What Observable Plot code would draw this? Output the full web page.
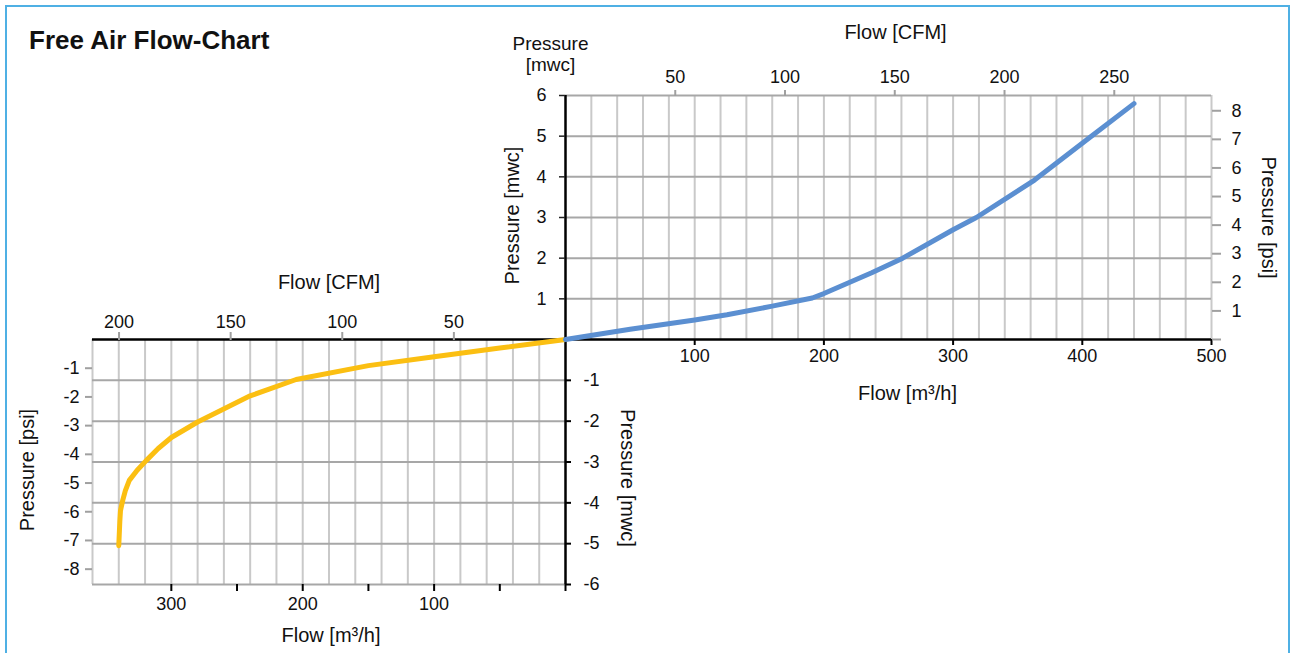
<!DOCTYPE html>
<html><head><meta charset="utf-8">
<script src="https://cdn.jsdelivr.net/npm/d3@7"></script>
<script src="https://cdn.jsdelivr.net/npm/@observablehq/plot@0.6"></script>
<style>
html,body{margin:0;padding:0;background:#fff;overflow:hidden;}
#wrap{position:relative;width:1291px;height:653px;overflow:hidden;font-family:"Liberation Sans",Arial,sans-serif;}
#border{position:absolute;left:5px;top:5px;width:1281px;height:700px;border:2px solid #4fb0e4;}
#title{position:absolute;left:29px;top:25px;font-size:26px;font-weight:bold;color:#111;}
.chart{position:absolute;}
</style></head>
<body>
<div id="wrap">
  <div id="border"></div>
  <div id="title">Free Air Flow-Chart</div>
  <div id="lower" class="chart" style="left:0px;top:260px"></div>
  <div id="upper" class="chart" style="left:470px;top:10px"></div>
</div>
<script>
// ---- data ----
// upper-right curve: flow [m³/h] vs pressure [mwc]
const upperFlow = [0, 50, 100, 125, 160, 191, 200, 237, 261, 300, 318, 363, 407, 440];
const upperPressure = [0, 0.25, 0.48, 0.61, 0.82, 1.02, 1.13, 1.64, 2.0, 2.7, 3.0, 3.92, 5.0, 5.8];
// lower-left curve: flow [m³/h] vs pressure [mwc] (vacuum)
const lowerFlow = [0, 50, 100, 150, 205, 240, 280, 300, 310, 319, 326, 332, 335, 337, 338.7, 339.2, 340];
const lowerPressure = [0, -0.21, -0.42, -0.64, -0.98, -1.38, -2.02, -2.4, -2.67, -2.96, -3.2, -3.45, -3.7, -3.94, -4.19, -4.45, -5.05];

// tick labels
const upperFlowTicks = [100, 200, 300, 400, 500];
const upperMwcTicks = [1, 2, 3, 4, 5, 6];
const upperCfmTicks = [50, 100, 150, 200, 250];
const upperPsiTicks = [0, 1, 2, 3, 4, 5, 6, 7, 8];
const lowerFlowTicks = [0, 50, 100, 150, 200, 250, 300];
const lowerFlowLabels = [100, 200, 300];
const lowerMwcTicks = [-1, -2, -3, -4, -5, -6];
const lowerPsiTicks = [-1, -2, -3, -4, -5, -6, -7, -8];
const lowerCfmTicks = [50, 100, 150, 200];

// unit conversions
const CFM = 1.699;   // m³/h per CFM
const PSI = 1.4223;  // psi per mwc

const upperData = upperFlow.map((f, i) => ({flow: f, p: upperPressure[i]}));
const lowerData = lowerFlow.map((f, i) => ({flow: f, p: lowerPressure[i]}));

const FONT = '"Liberation Sans", Arial, sans-serif';
const style = {fontFamily: FONT, fontSize: "18px", background: "transparent", overflow: "visible", color: "#111"};
const VGRID = "#c9c9c9", HGRID = "#a7a7a7", TICKGRAY = "#a0a0a0";
const TS = 18; // tick label size
const LS = 20; // axis title size

const upper = Plot.plot({
  width: 820, height: 400,
  marginLeft: 95, marginRight: 79, marginTop: 85, marginBottom: 71,
  x: {domain: [0, 500]},
  y: {domain: [0, 6]},
  style,
  marks: [
    Plot.gridX(d3.range(20, 501, 20), {stroke: VGRID, strokeOpacity: 1, strokeWidth: 2}),
    Plot.gridY(d3.range(1, 7), {stroke: HGRID, strokeOpacity: 1, strokeWidth: 2}),
    Plot.ruleY([0], {stroke: "#000", strokeWidth: 2.5}),
    Plot.ruleX([0], {stroke: "#000", strokeWidth: 2.5}),
    Plot.axisY(upperMwcTicks, {anchor: "left", tickSize: 6, tickPadding: 13, stroke: "#222", strokeWidth: 1.5, tickFormat: d => String(d), label: null, fontSize: TS}),
    Plot.axisX(upperFlowTicks, {anchor: "bottom", tickSize: 6, tickPadding: 4, stroke: "#000", strokeWidth: 2, tickFormat: d => String(d), label: null, fontSize: TS}),
    Plot.axisX(upperCfmTicks.map(c => c * CFM), {anchor: "top", tickSize: 6, tickPadding: 7, stroke: TICKGRAY, strokeWidth: 2, tickFormat: d => String(Math.round(d / CFM)), label: null, fontSize: TS}),
    Plot.axisY(upperPsiTicks.map(p => p / PSI), {anchor: "right", tickSize: 9, tickPadding: 11, stroke: TICKGRAY, strokeWidth: 2, tickFormat: d => { const v = Math.round(d * PSI); return v === 0 ? "" : String(v); }, label: null, fontSize: TS}),
    Plot.line(upperData, {x: "flow", y: "p", stroke: "#5b8fd1", strokeWidth: 5, curve: "linear"}),
    Plot.text(["Flow [CFM]"], {text: d => d, frameAnchor: "top", dx: 7, dy: -63, fontSize: LS, lineAnchor: "middle", textAnchor: "middle"}),
    Plot.text(["Pressure\n[mwc]"], {text: d => d, frameAnchor: "top-left", dx: -15, dy: -42, fontSize: 19, lineAnchor: "middle", textAnchor: "middle", lineHeight: 1.15}),
    Plot.text(["Pressure [mwc]"], {text: d => d, frameAnchor: "left", dx: -53, dy: -2, fontSize: LS, rotate: -90, lineAnchor: "middle", textAnchor: "middle"}),
    Plot.text(["Pressure [psi]"], {text: d => d, frameAnchor: "right", dx: 57, dy: 0, fontSize: LS, rotate: 90, lineAnchor: "middle", textAnchor: "middle"}),
    Plot.text(["Flow [m³/h]"], {text: d => d, frameAnchor: "bottom", dx: 19, dy: 54, fontSize: LS, lineAnchor: "middle", textAnchor: "middle"})
  ]
});
document.getElementById("upper").appendChild(upper);

const lower = Plot.plot({
  width: 660, height: 393,
  marginLeft: 92, marginRight: 95, marginTop: 79, marginBottom: 69,
  x: {domain: [0, 360], reverse: true},
  y: {domain: [-6, 0]},
  style,
  marks: [
    Plot.gridX(d3.range(20, 361, 20), {stroke: VGRID, strokeOpacity: 1, strokeWidth: 2}),
    Plot.gridY(d3.range(-6, 0), {stroke: HGRID, strokeOpacity: 1, strokeWidth: 2}),
    Plot.ruleY([0], {stroke: "#000", strokeWidth: 2.5}),
    Plot.ruleX([0], {stroke: "#000", strokeWidth: 2.5}),
    Plot.axisY(lowerMwcTicks, {anchor: "right", tickSize: 5, tickPadding: 13, stroke: "#000", strokeWidth: 2, tickFormat: d => String(d), label: null, fontSize: TS}),
    Plot.axisY(lowerPsiTicks.map(p => p / PSI), {anchor: "left", tickSize: 7, tickPadding: 6, stroke: TICKGRAY, strokeWidth: 2, tickFormat: d => String(Math.round(d * PSI)), label: null, fontSize: TS}),
    Plot.axisX(lowerFlowTicks, {anchor: "bottom", tickSize: 7, tickPadding: 6, stroke: "#000", strokeWidth: 2, tickFormat: d => lowerFlowLabels.includes(d) ? String(d) : "", label: null, fontSize: TS}),
    Plot.axisX(lowerCfmTicks.map(c => c * CFM), {anchor: "top", tickSize: 8, tickPadding: 4, stroke: TICKGRAY, strokeWidth: 2, tickFormat: d => String(Math.round(d / CFM)), label: null, fontSize: TS}),
    Plot.line(lowerData, {x: "flow", y: "p", stroke: "#fbbf12", strokeWidth: 5, curve: "linear"}),
    Plot.text(["Flow [CFM]"], {text: d => d, frameAnchor: "top", dx: 0, dy: -57, fontSize: LS, lineAnchor: "middle", textAnchor: "middle"}),
    Plot.text(["Pressure [psi]"], {text: d => d, frameAnchor: "left", dx: -65, dy: 8, fontSize: LS, rotate: -90, lineAnchor: "middle", textAnchor: "middle"}),
    Plot.text(["Pressure [mwc]"], {text: d => d, frameAnchor: "right", dx: 62, dy: 16, fontSize: LS, rotate: 90, lineAnchor: "middle", textAnchor: "middle"}),
    Plot.text(["Flow [m³/h]"], {text: d => d, frameAnchor: "bottom", dx: 2, dy: 51, fontSize: LS, lineAnchor: "middle", textAnchor: "middle"})
  ]
});
document.getElementById("lower").appendChild(lower);
</script>
</body></html>
